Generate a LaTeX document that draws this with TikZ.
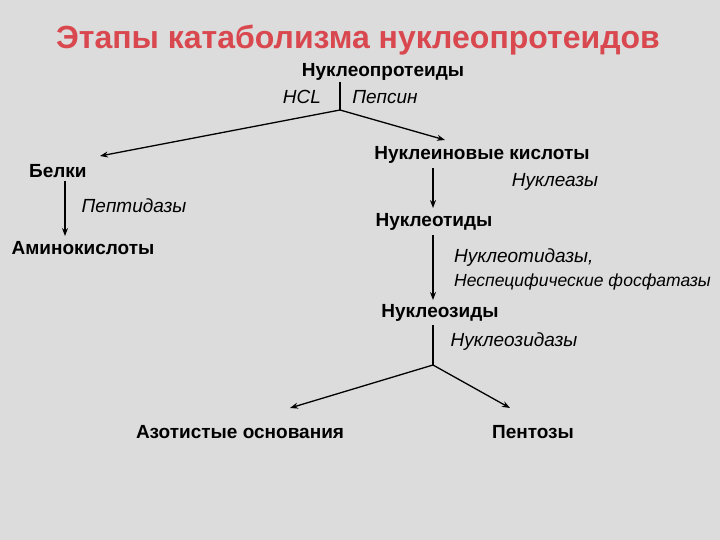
\documentclass[tikz,border=0pt]{standalone}
\usepackage{fontspec}
\setmainfont{Liberation Sans}
\usetikzlibrary{arrows.meta}
\definecolor{bg}{HTML}{DCDCDC}
\definecolor{ttl}{HTML}{D9474F}
\tikzset{
  lbl/.style={font=\bfseries\fontsize{19}{21}\selectfont, inner sep=1pt},
  enz/.style={font=\itshape\fontsize{19}{21}\selectfont, inner sep=1pt},
  ln/.style={line width=1.3pt},
  arr/.style={line width=1.3pt, -{Stealth[length=8pt,width=6pt]}}
}
\begin{document}
\begin{tikzpicture}[x=1pt,y=-1pt]
\fill[bg] (0,0) rectangle (720,540);
\useasboundingbox (0,0) rectangle (720,540);
\node[text=ttl, font=\bfseries\fontsize{32}{36}\selectfont] (title) at (358,40) {Этапы катаболизма нуклеопротеидов};
\node[lbl] (np) at (383,72) {Нуклеопротеиды};
\coordinate (top) at (340,82);
\coordinate (split) at (340,110);
\node[enz] (hcl) at (302,97) {HCL};
\node[enz] (peps) at (385,97) {Пепсин};
\node[lbl, anchor=west] (bel) at (28,171) {Белки};
\node[lbl] (nk) at (482,155) {Нуклеиновые кислоты};
\node[enz] (nuc) at (555,182) {Нуклеазы};
\node[enz] (pept) at (134,206) {Пептидазы};
\node[lbl] (amk) at (83,248) {Аминокислоты};
\node[lbl] (nt) at (434,222) {Нуклеотиды};
\node[enz, anchor=west] (ntd) at (453,258) {Нуклеотидазы,};
\node[enz, anchor=west, font=\itshape\fontsize{17.5}{19}\selectfont] (fosf) at (453,282) {Неспецифические фосфатазы};
\node[lbl] (ns) at (440,313) {Нуклеозиды};
\node[enz] (nsd) at (514,342) {Нуклеозидазы};
\coordinate (split2) at (433,365);
\node[lbl] (az) at (240,432) {Азотистые основания};
\node[lbl] (pen) at (533,432) {Пентозы};

\draw[ln] (top) -- (split);
\draw[arr] (split) -- (100,156);
\draw[arr] (split) -- (445,140);
\draw[arr] (65,181) -- (65,236);
\draw[arr] (433,168) -- (433,208);
\draw[arr] (433,235) -- (433,300);
\draw[ln] (433,325) -- (split2);
\draw[arr] (split2) -- (290,408);
\draw[arr] (split2) -- (510,408);
\end{tikzpicture}
\end{document}
